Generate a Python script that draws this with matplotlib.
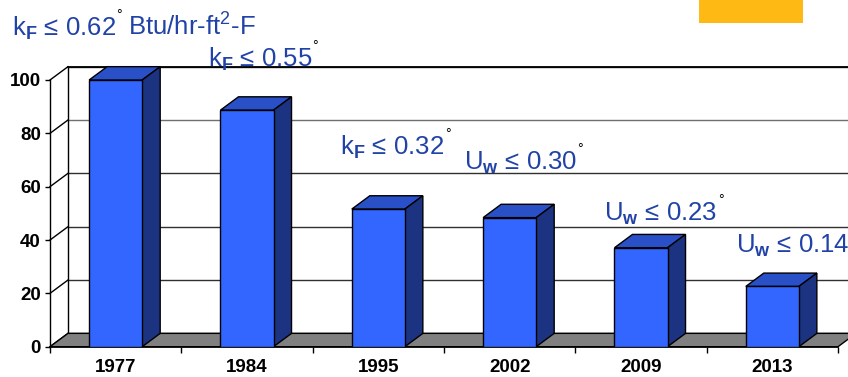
import matplotlib
matplotlib.use("Agg")
import matplotlib.pyplot as plt
from matplotlib.patches import Polygon, Rectangle

plt.rcParams["font.family"] = ["Liberation Sans", "DejaVu Sans"]
plt.rcParams["mathtext.fontset"] = "custom"
plt.rcParams["mathtext.rm"] = "Liberation Sans"
plt.rcParams["mathtext.it"] = "Liberation Sans:italic"
plt.rcParams["mathtext.bf"] = "Liberation Sans:bold"

# Data
years = ["1977", "1984", "1995", "2002", "2009", "2013"]
relative_u = [100.0, 88.7, 51.6, 48.4, 37.1, 22.6]
y_ticks = [0, 20, 40, 60, 80, 100]
labels = [
    r"k$_\mathbf{F}$ ≤ 0.62",
    r"k$_\mathbf{F}$ ≤ 0.55",
    r"k$_\mathbf{F}$ ≤ 0.32",
    r"U$_\mathbf{w}$ ≤ 0.30",
    r"U$_\mathbf{w}$ ≤ 0.23",
    r"U$_\mathbf{w}$ ≤ 0.14",
]
unit_text = r"Btu/hr-ft$^2$-F"
label_pos = [(-0.79, 116.5), (0.70, 105.0), (1.71, 72.0),
             (2.65, 66.3), (3.72, 47.1), (4.72, 35.2)]

FRONT = "#3366FF"
SIDE = "#1B3380"
TOP = "#2A50C8"
FLOOR = "#808080"
TEXT_BLUE = "#2142A6"
GRID = "#303030"

DX, DY = 0.137, 5.0      # depth offset of the 3D box (category units, value units)
BAR_W = 0.404

fig = plt.figure(figsize=(8.48, 3.77), dpi=100)
ax = fig.add_axes([50 / 848, (377 - 346.7) / 377, 788 / 848, 266.7 / 377])
ax.set_xlim(-0.5, 5.5)
ax.set_ylim(0, 100)
for s in ax.spines.values():
    s.set_visible(False)

xs = list(range(len(years)))
x0, x1 = -0.5, len(years) - 0.5

# back wall gridlines and left wall diagonals
for t in y_ticks:
    ax.plot([x0 + DX, x1 + DX + 0.2], [t + DY, t + DY],
            color=("#707070" if t == 80 else GRID), lw=1.0, clip_on=False, zorder=1)
    ax.plot([x0, x0 + DX], [t, t + DY], color="black", lw=1.0, clip_on=False, zorder=1)
ax.plot([x0 + DX, x0 + DX], [DY, 100 + DY], color="black", lw=1.0, clip_on=False, zorder=1)
ax.plot([x0 + DX, x1 + DX + 0.2], [100 + DY, 100 + DY], color="black", lw=1.3,
        clip_on=False, zorder=1)

# floor
floor = Polygon([(x0, 0), (x1, 0), (x1 + DX, DY), (x0 + DX, DY)], closed=True,
                facecolor=FLOOR, edgecolor="black", lw=1.0, clip_on=False, zorder=2)
ax.add_patch(floor)

# front value axis
ax.plot([x0, x0], [0, 100], color="black", lw=1.0, clip_on=False, zorder=3)
ax.plot([x0, x1], [0, 0], color="black", lw=1.2, clip_on=False, zorder=3)

# bars
ax.bar(xs, relative_u, width=BAR_W, color=FRONT, edgecolor="black", lw=1.0, zorder=5)
for x, v in zip(xs, relative_u):
    l, r = x - BAR_W / 2, x + BAR_W / 2
    top = Polygon([(l, v), (r, v), (r + DX, v + DY), (l + DX, v + DY)], closed=True,
                  facecolor=TOP, edgecolor="black", lw=1.0, clip_on=False, zorder=4)
    side = Polygon([(r, 0), (r + DX, DY), (r + DX, v + DY), (r, v)], closed=True,
                   facecolor=SIDE, edgecolor="black", lw=1.0, clip_on=False, zorder=4)
    ax.add_patch(top)
    ax.add_patch(side)

# ticks
ax.set_yticks(y_ticks)
ax.set_yticklabels([str(t) for t in y_ticks], fontsize=13.5, fontweight="bold")
ax.tick_params(axis="y", direction="out", length=3.5, width=1.0, pad=3)
ax.set_xticks(xs)
ax.set_xticklabels(years, fontsize=13.5, fontweight="bold")
ax.set_xticks([x0 + i for i in range(len(years) + 1)], minor=True)
ax.tick_params(axis="x", which="major", length=0, pad=9)
ax.tick_params(axis="x", which="minor", direction="out", length=4, width=1.0)

# annotations
for i, (txt, (lx, ly)) in enumerate(zip(labels, label_pos)):
    t = ax.text(lx, ly, txt, fontsize=18.5, color=TEXT_BLUE, ha="left", va="baseline",
                clip_on=False, zorder=8)
    if i < len(labels) - 1:
        ax.annotate("°", xy=(1, ly), xycoords=(t, "data"), xytext=(0.3, 12),
                    textcoords="offset points", fontsize=10, color="black",
                    ha="left", va="baseline", annotation_clip=False, zorder=8)
    if i == 0:
        ax.annotate(unit_text, xy=(1, ly), xycoords=(t, "data"), xytext=(9, 0),
                    textcoords="offset points", fontsize=18.5, color=TEXT_BLUE,
                    ha="left", va="baseline", annotation_clip=False, zorder=8)

# highlight box in the top corner
fig.patches.append(Rectangle((699 / 848, 1 - 22.7 / 377), 103.7 / 848, 22.7 / 377,
                             transform=fig.transFigure, facecolor="#FFB915",
                             edgecolor="none", zorder=10))

fig.savefig("out.png", dpi=100)
